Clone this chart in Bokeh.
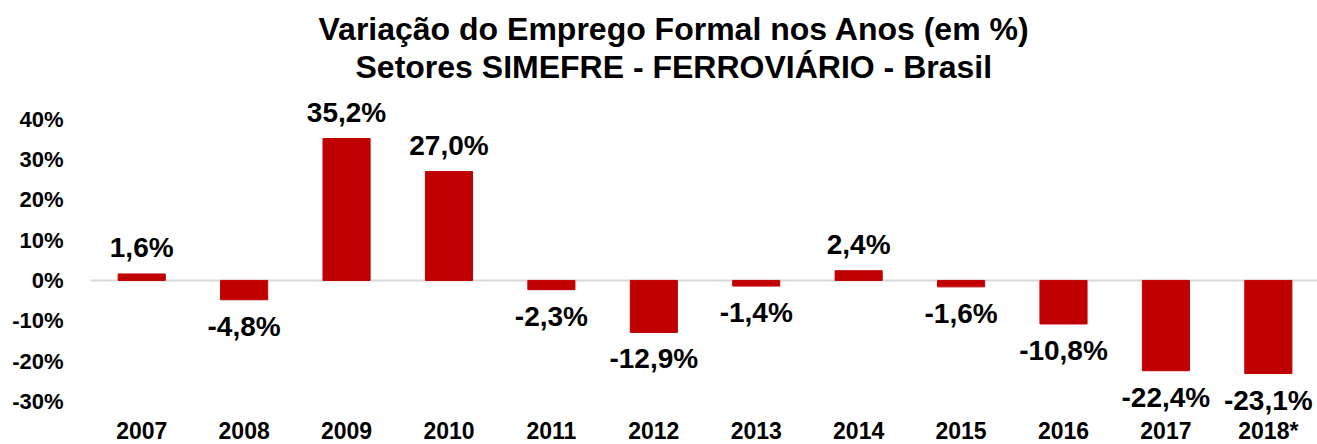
from bokeh.plotting import figure
from bokeh.models import (Range1d, FixedTicker, PrintfTickFormatter, LabelSet,
                          ColumnDataSource, Span, Title)
from bokeh.core.properties import value
from bokeh.embed import file_html
from bokeh.resources import INLINE

years = ["2007", "2008", "2009", "2010", "2011", "2012",
         "2013", "2014", "2015", "2016", "2017", "2018*"]
values = [1.6, -4.8, 35.2, 27.0, -2.3, -12.9, -1.4, 2.4, -1.6, -10.8, -22.4, -23.1]
y_ticks = [-30, -20, -10, 0, 10, 20, 30, 40]
title_line1 = "Variação do Emprego Formal nos Anos (em %)"
title_line2 = "Setores SIMEFRE - FERROVIÁRIO - Brasil"

FONT = "Liberation Sans"
BAR = "#C00000"
Y_MIN, Y_MAX = -40.7, 48.6

x = list(range(len(years)))
labels = [f"{v:.1f}".replace(".", ",") + "%" for v in values]
offsets = [17 if v >= 0 else -36 for v in values]
src = ColumnDataSource(dict(x=x, top=values, label=labels, off=offsets,
                            year=years, ybase=[Y_MIN] * len(years)))

p = figure(width=1317, height=444, output_backend="svg", toolbar_location=None,
           title=None,
           x_range=Range1d(-0.5, 11.48), y_range=Range1d(Y_MIN, Y_MAX),
           min_border_left=90, min_border_right=0, min_border_top=84,
           min_border_bottom=0)

p.add_layout(Span(location=0, dimension="width", line_color="#d9d9d9",
                  line_width=2, level="underlay"))
p.vbar(x="x", top="top", bottom=0, width=0.46, source=src,
       fill_color=BAR, line_color=BAR)

# value labels
p.add_layout(LabelSet(x="x", y="top", text="label", y_offset="off", source=src,
                      text_align="center", text_baseline="alphabetic",
                      text_font=value(FONT), text_font_style="bold",
                      text_font_size="28px", text_color="black"))

# category (year) labels along the bottom edge
p.add_layout(LabelSet(x="x", y="ybase", text="year", y_offset=6, source=src,
                      text_align="center", text_baseline="alphabetic",
                      text_font=value(FONT), text_font_style="bold",
                      text_font_size="23px", text_color="black"))

t2 = Title(text=title_line2, align="left", offset=265, text_font=FONT,
           text_font_style="bold", text_font_size="32px", standoff=0,
           text_color="black")
t1 = Title(text=title_line1, align="left", offset=228, text_font=FONT,
           text_font_style="bold", text_font_size="32px", standoff=0,
           text_color="black")
p.add_layout(t2, "above")
p.add_layout(t1, "above")

p.xaxis.visible = False

ax = p.yaxis[0]
ax.axis_line_color = None
ax.major_tick_line_color = None
ax.minor_tick_line_color = None
ax.major_tick_out = 0
ax.major_tick_in = 0
ax.minor_tick_out = 0
ax.minor_tick_in = 0
ax.major_label_text_font = FONT
ax.major_label_text_font_style = "bold"
ax.major_label_text_color = "black"
ax.ticker = FixedTicker(ticks=y_ticks)
ax.formatter = PrintfTickFormatter(format="%d%%")
ax.major_label_text_font_size = "22px"
ax.major_label_standoff = 27

p.xgrid.visible = False
p.ygrid.visible = False
p.outline_line_color = None

open("out.html", "w").write(file_html(p, INLINE))
